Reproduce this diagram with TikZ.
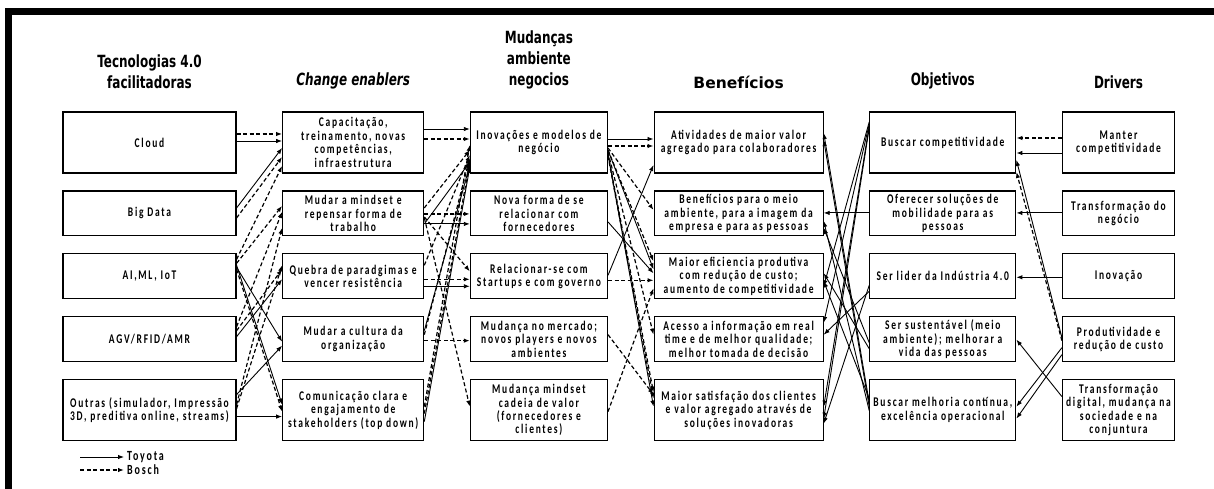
\documentclass[tikz,border=0pt]{standalone}
\usepackage{fontspec}
\setmainfont{DejaVu Sans}
\newfontfamily\boxfont[LetterSpace=18]{Carlito}
\newfontfamily\headfont{DejaVu Sans}
\usetikzlibrary{arrows.meta, positioning}

\tikzset{
    % text is drawn taller than wide, as in the scan
    tall/.style={yscale=1.4},
    % Box style
    box/.style={
        rectangle,
        draw=black,
        line width=1.2pt,
        inner sep=1pt,
        align=center,
        font=\boxfont\bfseries\fontsize{9.5pt}{9.6pt}\selectfont
    },
    big/.style={minimum height=43.6pt},
    techbox/.style={box, minimum width=173pt, minimum height=32.1pt},
    enabler/.style={box, minimum width=141pt, minimum height=32.1pt},
    change/.style={box, minimum width=137pt, minimum height=32.1pt},
    benefit/.style={box, minimum width=169pt, minimum height=32.1pt},
    goal/.style={box, minimum width=146pt, minimum height=32.1pt},
    driver/.style={box, minimum width=112pt, minimum height=32.1pt},
    % Column heads
    head/.style={
        align=center,
        inner sep=0pt,
        anchor=south,
        font=\headfont\bfseries\fontsize{12pt}{15pt}\selectfont
    },
    legend/.style={inner sep=3pt, font=\boxfont\bfseries\fontsize{10pt}{9pt}\selectfont},
    % Arrow styles
    toyota/.style={-{Latex[length=6pt,width=4.5pt]}, line width=0.9pt},
    bosch/.style={toyota, line width=1.2pt, dash pattern=on 4pt off 2.5pt}
}

\begin{document}
\begin{tikzpicture}[x=1pt, y=-1pt, node distance=16.25pt and 45.5pt]
    \useasboundingbox (0,0) rectangle (1214,489);
    % frame
    \fill (5,8) rectangle (1214,15);
    \fill (5,8) rectangle (12,489);

    % Tecnologias
    \node (cloud) [techbox, big, tall] at (149.5,142.5) {Cloud};
    \node (bigdata) [techbox, below=of cloud, tall] {Big Data};
    \node (aiml) [techbox, below=of bigdata, tall] {AI,ML, IoT};
    \node (agv) [techbox, below=of aiml, tall] {AGV/RFID/AMR};
    \node (outras) [techbox, big, below=of agv, tall] {Outras (simulador, Impressão\\3D, preditiva online, streams)};

    % Change enablers
    \node (capac) [enabler, big, right=of cloud, tall] {Capacitação,\\treinamento, novas\\competências,\\infraestrutura};
    \node (mindset) [enabler, right=of bigdata, tall] {Mudar a mindset e\\repensar forma de\\trabalho};
    \node (quebra) [enabler, right=of aiml, tall] {Quebra de paradgimas e\\vencer resistência};
    \node (cultura) [enabler, right=of agv, tall] {Mudar a cultura da\\organização};
    \node (comunic) [enabler, big, right=of outras, tall] {Comunicação clara e\\engajamento de\\stakeholders (top down)};

    % Mudancas
    \node (inovac) [change, big, right=of capac, tall] {Inovações e modelos de\\negócio};
    \node (novaforma) [change, right=of mindset, tall] {Nova forma de se\\relacionar com\\fornecedores};
    \node (relac) [change, right=of quebra, tall] {Relacionar-se com\\Startups e com governo};
    \node (mercado) [change, right=of cultura, tall] {Mudança no mercado;\\novos players e novos\\ambientes};
    \node (cadeia) [change, big, right=of comunic, tall] {Mudança mindset\\cadeia de valor\\(fornecedores e\\clientes)};

    % Beneficios
    \node (ativid) [benefit, big, right=of inovac, tall] {Atividades de maior valor\\agregado para colaboradores};
    \node (ambiente) [benefit, right=of novaforma, tall] {Benefícios para o meio\\ambiente, para a imagem da\\empresa e para as pessoas};
    \node (eficiencia) [benefit, right=of relac, tall] {Maior eficiencia produtiva\\com redução de custo;\\aumento de competitividade};
    \node (acesso) [benefit, right=of mercado, tall] {Acesso a informação em real\\time e de melhor qualidade;\\melhor tomada de decisão};
    \node (satisf) [benefit, big, right=of cadeia, tall] {Maior satisfação dos clientes\\e valor agregado através de\\soluções inovadoras};

    % Objetivos
    \node (compet) [goal, big, right=of ativid, tall] {Buscar competitividade};
    \node (mobil) [goal, right=of ambiente, tall] {Oferecer soluções de\\mobilidade para as\\pessoas};
    \node (lider) [goal, right=of eficiencia, tall] {Ser lider da Indústria 4.0};
    \node (sustent) [goal, right=of acesso, tall] {Ser sustentável (meio\\ambiente); melhorar a\\vida das pessoas};
    \node (melhoria) [goal, big, right=of satisf, tall] {Buscar melhoria contínua,\\excelência operacional};

    % Drivers
    \node (manter) [driver, big, right=of compet, tall] {Manter\\competitividade};
    \node (transf) [driver, right=of mobil, tall] {Transformação do\\negócio};
    \node (inovdrv) [driver, right=of lider, tall] {Inovação};
    \node (produt) [driver, right=of sustent, tall] {Produtividade e\\redução de custo};
    \node (digital) [driver, big, right=of melhoria, tall] {Transformação\\digital, mudança na\\sociedade e na\\conjuntura};

    % Heads
    \node [head, above=22pt of cloud, tall] {Tecnologias 4.0\\facilitadoras};
    \node [head, above=22pt of capac, tall] {\itshape Change enablers};
    \node [head, above=22pt of inovac, tall] {Mudanças\\ambiente\\negocios};
    \node [head, above=22pt of ativid, font=\headfont\bfseries\fontsize{15.5pt}{18pt}\selectfont] {Benefícios};
    \node [head, above=22pt of compet, tall] {Objetivos};
    \node [head, above=22pt of manter, tall] {Drivers};

    % tecnologias -> enablers
    \draw[bosch] ([yshift=8.5pt]cloud.east) -- ([yshift=8.5pt]capac.west);
    \draw[toyota] ([yshift=1.5pt]cloud.east) -- ([yshift=1.5pt]capac.west);
    \draw[toyota] ([yshift=5.5pt]bigdata.east) -- ([yshift=-5.5pt]capac.west);
    \draw[bosch] ([yshift=-4.5pt]bigdata.east) -- ([yshift=-14.5pt]capac.west);
    \draw[bosch] ([yshift=17pt]aiml.east) -- ([yshift=-23.5pt]capac.west);
    \draw[bosch] ([yshift=13pt]aiml.east) -- ([yshift=7.5pt]mindset.west);
    \draw[bosch] ([yshift=12.5pt]agv.east) -- ([yshift=1.5pt]mindset.west);
    \draw[bosch] ([yshift=5.5pt]outras.east) -- ([yshift=-14.5pt]mindset.west);
    \draw[bosch] ([yshift=8.5pt]agv.east) -- ([yshift=7pt]quebra.west);
    \draw[toyota] ([yshift=2.5pt]agv.east) -- ([yshift=-3pt]quebra.west);
    \draw[toyota] ([yshift=9pt]aiml.east) -- ([yshift=-2.5pt]cultura.west);
    \draw[toyota] ([yshift=11pt]aiml.east) -- ([yshift=5.5pt]comunic.west);
    \draw[bosch] ([yshift=7pt]aiml.east) -- ([yshift=-1.5pt]comunic.west);
    \draw[toyota] ([yshift=15.5pt]outras.east) -- ([yshift=-6.5pt]cultura.west);
    \draw[toyota] ([yshift=-6.5pt]outras.east) -- ([yshift=-6.5pt]comunic.west);
    \draw[bosch] ([yshift=1.5pt]outras.east) -- ([yshift=11pt]quebra.west);

    % enablers -> mudancas
    \draw[toyota] ([yshift=13.5pt]capac.east) -- ([yshift=13.5pt]inovac.west);
    \draw[bosch] ([yshift=3.5pt]capac.east) -- ([yshift=3.5pt]inovac.west);
    \draw[bosch] ([yshift=-0.5pt]mindset.east) -- ([yshift=-0.5pt]novaforma.west);
    \draw[toyota] ([yshift=-10.5pt]mindset.east) -- ([yshift=-10.5pt]novaforma.west);
    \draw[toyota] ([yshift=-10.5pt]mindset.east) -- ([yshift=-19.5pt]inovac.west);
    \draw[bosch] ([yshift=5.5pt]mindset.east) -- ([yshift=-7.5pt]inovac.west);
    \draw[bosch] ([yshift=-3pt]quebra.east) -- ([yshift=-3pt]relac.west);
    \draw[toyota] ([yshift=-10pt]quebra.east) -- ([yshift=-10pt]relac.west);
    \draw[bosch] ([yshift=11pt]quebra.east) -- ([yshift=-12.5pt]inovac.west);
    \draw[bosch] ([yshift=-1.5pt]cultura.east) -- ([yshift=-1.5pt]mercado.west);
    \draw[bosch] ([yshift=4.5pt]cultura.east) -- ([yshift=-15.5pt]inovac.west);
    \draw[toyota] ([yshift=8.5pt]cultura.east) -- ([yshift=-22.5pt]inovac.west);
    \draw[toyota] ([yshift=-11.5pt]comunic.east) -- ([yshift=-24.5pt]inovac.west);
    \draw[bosch] ([yshift=3.5pt]comunic.east) -- ([yshift=-2.5pt]inovac.west);
    \draw[bosch] ([yshift=-3.5pt]comunic.east) -- ([yshift=-19.5pt]inovac.west);
    \draw[bosch] ([yshift=-4.5pt]mindset.east) -- ([yshift=3.5pt]cadeia.west);
    \draw[bosch] ([yshift=-3.5pt]mindset.east) -- ([yshift=5pt]relac.west);

    % mudancas -> beneficios
    \draw[toyota] ([yshift=3.5pt]inovac.east) -- ([yshift=3.5pt]ativid.west);
    \draw[bosch] ([yshift=-3.5pt]inovac.east) -- ([yshift=-3.5pt]ativid.west);
    \draw[bosch] ([yshift=-5.5pt]inovac.east) -- ([yshift=3.5pt]ambiente.west);
    \draw[bosch] ([yshift=-7.5pt]inovac.east) -- ([yshift=15pt]eficiencia.west);
    \draw[toyota] ([yshift=-7.5pt]inovac.east) -- ([yshift=7pt]eficiencia.west);
    \draw[bosch] ([yshift=-9.5pt]inovac.east) -- ([yshift=4.5pt]acesso.west);
    \draw[bosch] ([yshift=-11.5pt]inovac.east) -- ([yshift=17.5pt]satisf.west);
    \draw[toyota] ([yshift=-11.5pt]inovac.east) -- ([yshift=3.5pt]satisf.west);
    \draw[bosch] ([yshift=-13.5pt]inovac.east) -- ([yshift=11.5pt]satisf.west);
    \draw[toyota] ([yshift=1pt]relac.east) -- ([yshift=-22.5pt]ativid.west);
    \draw[toyota] ([yshift=-8.5pt]novaforma.east) -- ([yshift=3pt]eficiencia.west);
    \draw[bosch] ([yshift=-4pt]relac.east) -- ([yshift=-4pt]eficiencia.west);
    \draw[bosch] ([yshift=4.5pt]mercado.east) -- ([yshift=15.5pt]satisf.west);
    \draw[bosch] ([yshift=-1.5pt]cadeia.east) -- ([yshift=-12pt]eficiencia.west);

    % objetivos -> beneficios
    \draw[toyota] ([yshift=0.5pt]mobil.west) -- ([yshift=0.5pt]ambiente.east);
    \draw[toyota] ([yshift=7.5pt]melhoria.west) -- ([yshift=9.5pt]ativid.east);
    \draw[toyota] ([yshift=3.5pt]melhoria.west) -- ([yshift=2.5pt]ativid.east);
    \draw[toyota] ([yshift=-0.5pt]melhoria.west) -- ([yshift=-7.5pt]ambiente.east);
    \draw[toyota] ([yshift=20.5pt]compet.west) -- ([yshift=-10pt]eficiencia.east);
    \draw[toyota] ([yshift=18.5pt]compet.west) -- ([yshift=16.5pt]acesso.east);
    \draw[toyota] ([yshift=16.5pt]compet.west) -- ([yshift=3.5pt]satisf.east);
    \draw[toyota] ([yshift=14.5pt]compet.west) -- ([yshift=-8.5pt]satisf.east);
    \draw[toyota] ([yshift=-9pt]lider.west) -- ([yshift=-13.5pt]satisf.east);
    \draw[toyota] ([yshift=-15pt]lider.west) -- ([yshift=4.5pt]acesso.east);
    \draw[toyota] ([yshift=-3.5pt]sustent.west) -- ([yshift=-14.5pt]ambiente.east);
    \draw[toyota] ([yshift=-9.5pt]sustent.west) -- ([yshift=3pt]eficiencia.east);
    \draw[toyota] ([yshift=11.5pt]melhoria.west) -- ([yshift=-5pt]eficiencia.east);

    % drivers -> objetivos
    \draw[bosch] ([yshift=4.5pt]manter.west) -- ([yshift=4.5pt]compet.east);
    \draw[toyota] ([yshift=-10.5pt]manter.west) -- ([yshift=-10.5pt]compet.east);
    \draw[toyota] ([yshift=0.5pt]transf.west) -- ([yshift=0.5pt]mobil.east);
    \draw[toyota] ([yshift=-1pt]inovdrv.west) -- ([yshift=-1pt]lider.east);
    \draw[toyota] ([yshift=1.5pt]produt.west) -- ([yshift=-17.5pt]compet.east);
    \draw[bosch] ([yshift=-1.5pt]produt.west) -- ([yshift=-29.5pt]compet.east);
    \draw[toyota] ([yshift=-8.5pt]produt.west) -- ([yshift=3.5pt]melhoria.east);
    \draw[toyota] ([yshift=-15.5pt]produt.west) -- ([yshift=-8.5pt]melhoria.east);
    \draw[toyota] ([yshift=13.5pt]digital.west) -- ([yshift=-0.5pt]sustent.east);

    % Legend
    \coordinate (lgtoy) at (80,457);
    \coordinate (lgbosch) at (80,470);
    \node (toylbl) [legend, anchor=west, tall] at (124,457) {Toyota};
    \node (boschlbl) [legend, anchor=west, tall] at (124,470) {Bosch};
    \draw[toyota] (lgtoy) -- (toylbl.west);
    \draw[bosch] (lgbosch) -- (boschlbl.west);
\end{tikzpicture}
\end{document}
